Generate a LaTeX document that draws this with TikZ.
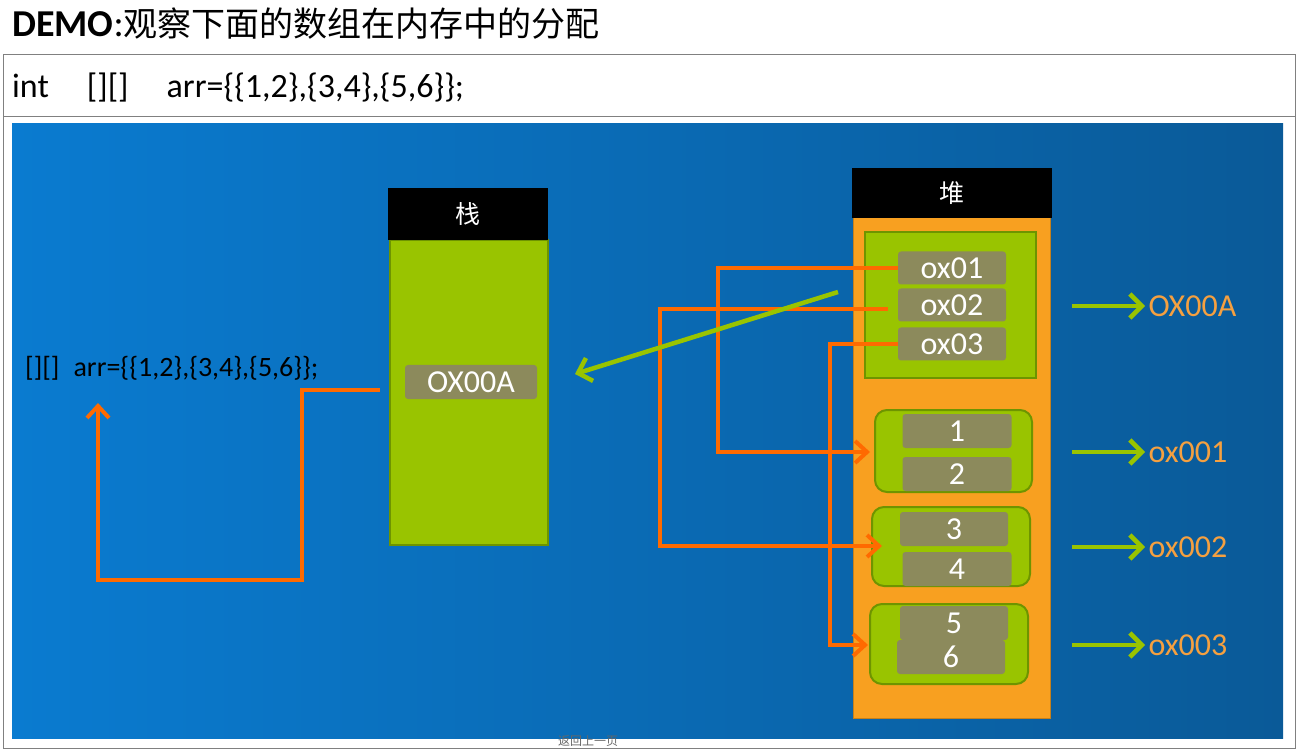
\documentclass[tikz,border=0pt]{standalone}
\usepackage{fontspec}
\setmainfont{Carlito}
\newfontfamily\cjk{Noto Sans CJK SC}
\usetikzlibrary{arrows.meta}
\definecolor{grn}{HTML}{99C400}
\definecolor{grnd}{HTML}{6E9400}
\definecolor{khaki}{HTML}{8C8A5C}
\definecolor{org}{HTML}{FF6A00}
\definecolor{heap}{HTML}{F8A020}
\definecolor{lbl}{HTML}{F5A040}
\definecolor{bl}{HTML}{0A7BD0}
\definecolor{br}{HTML}{0A5A98}
\begin{document}
\begin{tikzpicture}[x=1pt,y=-1pt,
  cell/.style={fill=khaki,rounded corners=3pt,text=white,font=\fontsize{32}{32}\selectfont},
  hdr/.style={fill=black,text=white,font=\cjk\fontsize{25}{25}\selectfont},
  oline/.style={draw=org,line width=4pt},
  oarr/.style={oline,-{Straight Barb[length=12pt,width=22pt]}},
  garr/.style={draw=grn,line width=4.5pt,-{Straight Barb[length=12pt,width=24pt]}},
  rl/.style={text=lbl,anchor=west,font=\fontsize{32}{32}\selectfont}]
\useasboundingbox (0,0) rectangle (1299,751);
\fill[white] (0,0) rectangle (1299,751);
\node[anchor=base west,inner sep=0] (title) at (12,37) {\fontsize{38}{38}\selectfont\textbf{DEMO}:{\cjk\fontsize{34}{34}\selectfont 观察下面的数组在内存中的分配}};
\draw[gray,line width=1pt] (3,55) rectangle (1295,748);
\draw[gray,line width=1pt] (3,117) -- (1295,117);
\node[anchor=base west,inner sep=0] (decl) at (12,98) {\fontsize{34}{34}\selectfont int\hspace{38pt}[][]\hspace{38pt}arr=\{\{1,2\},\{3,4\},\{5,6\}\};};
\shade[left color=bl,right color=br] (12,124) rectangle (1283,738);
\node[text=gray!80!black,font=\cjk\fontsize{12}{12}\selectfont] (back) at (588,741) {返回上一页};
% stack
\fill[grn,draw=grnd,line width=1.5pt] (390,240) rectangle (548,545);
\node[hdr,minimum width=160pt,minimum height=52pt] (stk) at (468,214) {栈};
\node[cell,minimum width=132pt,minimum height=34pt] (ref) at (471,382) {OX00A};
\node[anchor=west,inner sep=0,font=\fontsize{28}{28}\selectfont] (larr) at (25,368) {[][]\hspace{14pt}arr=\{\{1,2\},\{3,4\},\{5,6\}\};};
\coordinate (la) at (98,403);
\coordinate (rs) at (380,390);
\draw[oarr] (rs) -- (302,390) -- (302,580) -- (98,580) -- (la);
% heap
\fill[heap,draw=heap!80!black,line width=1pt] (853,218) rectangle (1050,718);
\node[hdr,minimum width=200pt,minimum height=50pt] (hp) at (952,193) {堆};
\fill[grn,draw=grnd,line width=1.5pt] (865,232) rectangle (1036,378);
\node[cell,minimum width=108pt,minimum height=33pt] (p1) at (952,268) {ox01};
\node[cell,minimum width=108pt,minimum height=33pt] (p2) at (952,305) {ox02};
\node[cell,minimum width=108pt,minimum height=33pt] (p3) at (952,344) {ox03};
\draw[fill=grn,draw=grnd,line width=2pt,rounded corners=12pt] (875,410) rectangle (1032,492);
\draw[fill=grn,draw=grnd,line width=2pt,rounded corners=12pt] (872,507) rectangle (1030,586);
\draw[fill=grn,draw=grnd,line width=2pt,rounded corners=12pt] (870,604) rectangle (1028,684);
\node[cell,minimum width=109pt,minimum height=34pt] (v1) at (957,431) {1};
\node[cell,minimum width=109pt,minimum height=34pt] (v2) at (957,474) {2};
\node[cell,minimum width=108pt,minimum height=34pt] (v3) at (954,529) {3};
\node[cell,minimum width=109pt,minimum height=34pt] (v4) at (957,569) {4};
\node[cell,minimum width=108pt,minimum height=34pt] (v5) at (954,623) {5};
\node[cell,minimum width=108pt,minimum height=34pt] (v6) at (951,657) {6};
\coordinate (g1) at (870,452);
\coordinate (g2) at (882,546);
\coordinate (g3) at (868,645);
\draw[oarr] (p1.west) -- (718,268) -- (718,452) -- (g1);
\draw[oarr] (888,309) -- (660,309) -- (660,546) -- (g2);
\draw[oarr] (p3.west) -- (830,344) -- (830,645) -- (g3);
\coordinate (gs) at (838,292);
\coordinate (ge) at (575,374);
\draw[garr] (gs) -- (ge);
% right labels
\node[rl] (l0) at (1145,306) {OX00A};
\node[rl] (l1) at (1145,452) {ox001};
\node[rl] (l2) at (1145,547) {ox002};
\node[rl] (l3) at (1145,645) {ox003};
\foreach \n in {l0,l1,l2,l3} \draw[garr] ([xshift=-73pt]\n.west) -- (\n.west);
\end{tikzpicture}
\end{document}
